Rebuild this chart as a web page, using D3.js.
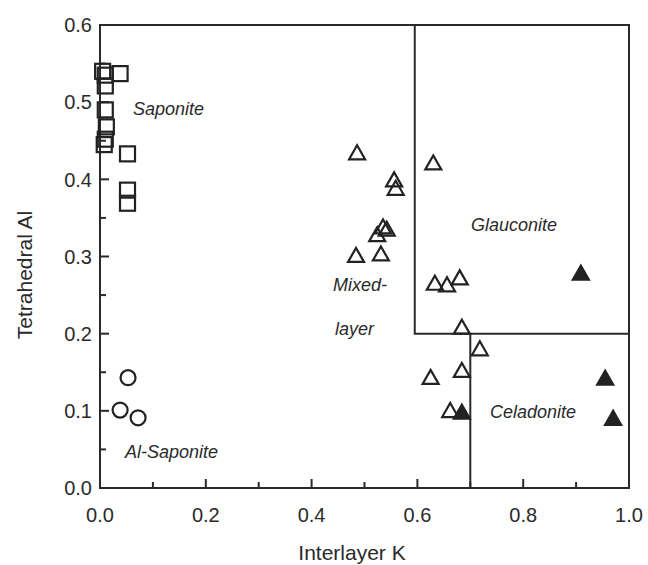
<!DOCTYPE html>
<html lang="en">
<head>
    <meta charset="utf-8">
    <title>Tetrahedral Al vs Interlayer K</title>
    <script src="https://d3js.org/d3.v7.min.js"></script>
    <style>
        body {
            margin: 0;
            padding: 0;
            background-color: #fff;
        }

        svg text {
            font-family: "Liberation Sans", Arial, Helvetica, sans-serif;
            fill: #2a2a2a;
        }

        .tick-label { font-size: 20px; }
        .axis-title { font-size: 21px; }
        .field-label { font-size: 18px; font-style: italic; }

        .frame, .tick, .field-line {
            stroke: #2a2a2a;
            stroke-width: 2;
            fill: none;
        }

        .marker {
            stroke: #222;
            stroke-width: 2.2;
            fill: none;
        }
        .marker.filled { fill: #222; }
    </style>
</head>
<body>
<svg id="chart"></svg>
<script>
    // Saponite (open squares)
    const saponiteK  = [0.005, 0.010, 0.038, 0.010, 0.010, 0.012, 0.010, 0.008, 0.052, 0.052, 0.052];
    const saponiteAl = [0.540, 0.535, 0.537, 0.521, 0.490, 0.468, 0.452, 0.445, 0.433, 0.386, 0.369];

    // Al-saponite (open circles)
    const alSaponiteK  = [0.053, 0.038, 0.072];
    const alSaponiteAl = [0.143, 0.101, 0.091];

    // Mixed-layer / glauconite (open triangles)
    const openTriK  = [0.486, 0.630, 0.556, 0.559, 0.535, 0.542, 0.524, 0.484, 0.531,
                       0.633, 0.656, 0.680, 0.684, 0.718, 0.684, 0.625, 0.662];
    const openTriAl = [0.435, 0.422, 0.400, 0.389, 0.339, 0.336, 0.329, 0.302, 0.304,
                       0.266, 0.264, 0.273, 0.209, 0.181, 0.153, 0.144, 0.101];

    // Celadonite (filled triangles)
    const filledTriK  = [0.684, 0.909, 0.955, 0.970];
    const filledTriAl = [0.099, 0.279, 0.143, 0.091];

    // field boundaries
    const glauconiteMinK = 0.595;
    const fieldAl = 0.2;
    const celadoniteMinK = 0.7;

    const xTicks = [0, 0.2, 0.4, 0.6, 0.8, 1.0];
    const xMinor = [0.1, 0.3, 0.5, 0.7, 0.9];
    const yTicks = [0, 0.1, 0.2, 0.3, 0.4, 0.5, 0.6];
    const yMinor = [0.05, 0.15, 0.25, 0.35, 0.45, 0.55];

    const fieldLabels = [
        { text: "Saponite",    x: 133, y: 115 },
        { text: "Al-Saponite", x: 125, y: 458 },
        { text: "Glauconite",  x: 471, y: 231 },
        { text: "Mixed-",      x: 333, y: 291 },
        { text: "layer",       x: 335, y: 335 },
        { text: "Celadonite",  x: 490, y: 418 }
    ];

    const width = 648;
    const height = 565;

    const svg = d3.select("#chart")
        .attr("width", width)
        .attr("height", height);

    const x = d3.scaleLinear().domain([0, 1]).range([100, 629]);
    const y = d3.scaleLinear().domain([0, 0.6]).range([488, 25]);

    // outer frame
    svg.append("rect")
        .attr("class", "frame")
        .attr("x", x(0))
        .attr("y", y(0.6))
        .attr("width", x(1) - x(0))
        .attr("height", y(0) - y(0.6));

    // field boundaries
    const fieldPath = d3.path();
    fieldPath.moveTo(x(glauconiteMinK), y(0.6));
    fieldPath.lineTo(x(glauconiteMinK), y(fieldAl));
    fieldPath.lineTo(x(1), y(fieldAl));
    fieldPath.moveTo(x(celadoniteMinK), y(fieldAl));
    fieldPath.lineTo(x(celadoniteMinK), y(0));
    svg.append("path")
        .attr("class", "field-line")
        .attr("d", fieldPath.toString());

    // ticks (inward)
    const ticks = svg.append("g");
    xTicks.concat(xMinor).forEach(v => {
        const len = xTicks.includes(v) ? 9 : 6;
        ticks.append("line").attr("class", "tick")
            .attr("x1", x(v)).attr("x2", x(v))
            .attr("y1", y(0)).attr("y2", y(0) - len);
    });
    yTicks.concat(yMinor).forEach(v => {
        const len = yTicks.includes(v) ? 9 : 6;
        ticks.append("line").attr("class", "tick")
            .attr("x1", x(0)).attr("x2", x(0) + len)
            .attr("y1", y(v)).attr("y2", y(v));
    });

    // tick labels
    svg.append("g").selectAll("text")
        .data(xTicks)
        .join("text")
        .attr("class", "tick-label")
        .attr("x", d => x(d))
        .attr("y", 522)
        .attr("text-anchor", "middle")
        .text(d => d3.format(".1f")(d));

    svg.append("g").selectAll("text")
        .data(yTicks)
        .join("text")
        .attr("class", "tick-label")
        .attr("x", 92)
        .attr("y", d => y(d))
        .attr("dy", "0.36em")
        .attr("text-anchor", "end")
        .text(d => d3.format(".1f")(d));

    // axis titles
    svg.append("text")
        .attr("class", "axis-title")
        .attr("x", 352)
        .attr("y", 560)
        .attr("text-anchor", "middle")
        .text("Interlayer K");

    svg.append("text")
        .attr("class", "axis-title")
        .attr("transform", "translate(32,275) rotate(-90)")
        .attr("text-anchor", "middle")
        .text("Tetrahedral Al");

    // field labels
    svg.append("g").selectAll("text")
        .data(fieldLabels)
        .join("text")
        .attr("class", "field-label")
        .attr("x", d => d.x)
        .attr("y", d => d.y)
        .text(d => d.text);

    // markers
    const pairs = (xs, ys) => xs.map((v, i) => [v, ys[i]]);
    const tri = "M-8,7L8,7L0,-7Z";

    svg.append("g").selectAll("rect")
        .data(pairs(saponiteK, saponiteAl))
        .join("rect")
        .attr("class", "marker")
        .attr("x", d => x(d[0]) - 7.5)
        .attr("y", d => y(d[1]) - 7.5)
        .attr("width", 15)
        .attr("height", 15);

    svg.append("g").selectAll("circle")
        .data(pairs(alSaponiteK, alSaponiteAl))
        .join("circle")
        .attr("class", "marker")
        .attr("cx", d => x(d[0]))
        .attr("cy", d => y(d[1]))
        .attr("r", 7.5);

    svg.append("g").selectAll("path")
        .data(pairs(openTriK, openTriAl))
        .join("path")
        .attr("class", "marker")
        .attr("d", tri)
        .attr("transform", d => `translate(${x(d[0])},${y(d[1])})`);

    svg.append("g").selectAll("path")
        .data(pairs(filledTriK, filledTriAl))
        .join("path")
        .attr("class", "marker filled")
        .attr("d", tri)
        .attr("transform", d => `translate(${x(d[0])},${y(d[1])})`);
</script>
</body>
</html>
